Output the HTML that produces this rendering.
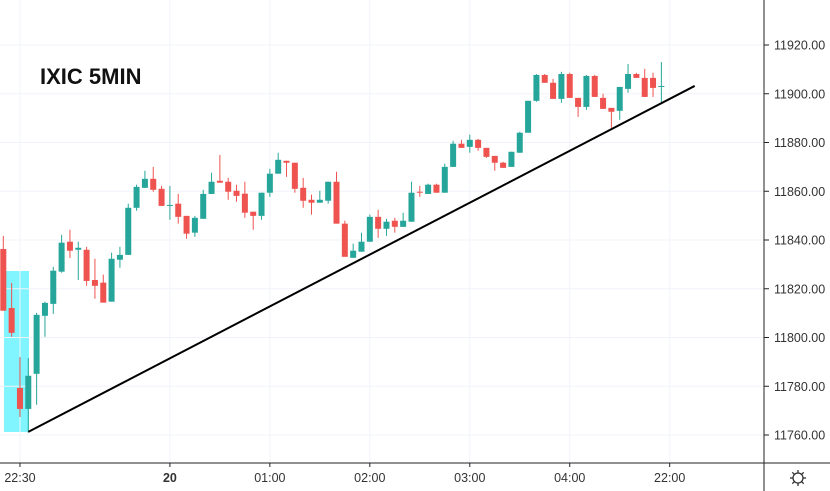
<!DOCTYPE html>
<html><head><meta charset="utf-8"><style>
body{margin:0;background:#fff;}
svg{display:block;font-family:"Liberation Sans",sans-serif;}
</style></head><body>
<svg id="chart" width="830" height="491">
<rect x="4" y="271" width="25" height="161" fill="#80f5ff"/>
<g id="grid"></g><g id="candles"></g><g id="trend"></g><g id="axes"></g>
<text x="40" y="84" font-size="22" font-weight="bold" fill="#111">IXIC 5MIN</text>
<g stroke="#333" stroke-width="1.3" fill="none">
<circle cx="798" cy="478" r="5"/>
<line x1="798" y1="470" x2="798" y2="473"/><line x1="798" y1="483" x2="798" y2="486"/>
<line x1="790" y1="478" x2="793" y2="478"/><line x1="803" y1="478" x2="806" y2="478"/>
<line x1="792.3" y1="472.3" x2="794.5" y2="474.5"/><line x1="801.5" y1="481.5" x2="803.7" y2="483.7"/>
<line x1="803.7" y1="472.3" x2="801.5" y2="474.5"/><line x1="794.5" y1="481.5" x2="792.3" y2="483.7"/>
</g>
</svg>
<script>
const opens=[11836.3,11812.1,11779.3,11770.7,11785.1,11808.9,11813.8,11827.0,11839.3,11836.0,11836.0,11823.6,11822.5,11814.7,11831.9,11833.9,11853.2,11861.4,11865.1,11861.0,11854.0,11854.9,11849.9,11843.0,11848.7,11858.9,11864.3,11863.9,11860.2,11859.0,11851.6,11849.9,11859.4,11867.2,11872.5,11871.7,11861.4,11856.5,11855.3,11856.1,11863.9,11846.7,11832.7,11835.2,11839.3,11849.5,11844.6,11847.9,11845.4,11847.5,11859.8,11858.9,11862.7,11859.4,11870.0,11879.5,11878.2,11881.1,11877.8,11874.5,11871.7,11870.0,11875.8,11884.0,11897.1,11907.7,11904.5,11897.9,11908.1,11898.3,11894.6,11907.3,11898.3,11894.2,11893.0,11902.0,11908.1,11906.5,11906.5,11902.8];
const highs=[11841.7,11822.4,11792.0,11791.6,11810.1,11814.7,11829.0,11842.1,11844.2,11839.3,11837.2,11832.3,11825.8,11834.8,11837.2,11854.9,11862.7,11868.4,11870.0,11862.2,11862.2,11858.9,11849.9,11849.9,11860.6,11867.6,11874.9,11865.5,11862.7,11863.9,11851.6,11859.4,11869.2,11875.8,11872.5,11871.7,11865.5,11858.6,11860.2,11863.9,11868.0,11847.9,11838.5,11843.0,11850.4,11852.4,11848.7,11849.1,11851.2,11863.9,11862.2,11863.1,11863.1,11871.3,11880.7,11881.1,11883.2,11881.5,11877.8,11874.5,11872.1,11876.2,11884.4,11897.1,11908.1,11908.1,11906.1,11909.0,11908.6,11898.3,11907.7,11907.7,11900.0,11894.2,11902.8,11912.2,11908.6,11910.2,11908.6,11913.0];
const lows=[11811.0,11800.3,11767.4,11761.0,11772.4,11800.3,11809.7,11826.6,11832.6,11823.6,11821.2,11815.9,11814.3,11814.7,11828.6,11833.9,11852.0,11861.4,11859.8,11854.0,11848.3,11846.7,11840.5,11841.3,11848.7,11858.9,11863.5,11856.5,11855.7,11849.1,11844.2,11848.3,11857.7,11867.2,11865.9,11859.4,11853.2,11850.4,11855.3,11854.9,11846.7,11833.1,11832.7,11835.2,11839.3,11840.9,11841.7,11843.0,11845.4,11847.5,11857.7,11858.9,11859.4,11859.4,11870.0,11877.8,11875.8,11876.6,11873.7,11868.4,11869.6,11870.0,11875.8,11884.0,11896.7,11904.5,11897.9,11896.3,11898.3,11890.5,11893.4,11898.7,11893.8,11886.0,11889.3,11900.4,11906.5,11898.7,11898.7,11896.3];
const closes=[11811.0,11801.9,11770.7,11784.3,11809.3,11814.2,11827.4,11838.9,11835.6,11836.8,11823.2,11821.2,11814.3,11832.3,11833.9,11853.2,11861.8,11865.1,11860.6,11854.0,11854.4,11849.5,11842.6,11849.1,11858.9,11863.9,11863.5,11859.8,11858.1,11851.2,11849.9,11859.4,11867.2,11872.9,11871.7,11861.0,11856.1,11855.3,11856.5,11863.9,11846.7,11833.1,11835.6,11839.3,11849.5,11844.6,11847.5,11845.4,11847.9,11859.4,11859.4,11862.7,11859.4,11870.0,11879.5,11877.8,11881.1,11877.8,11874.1,11871.7,11869.6,11876.2,11884.0,11897.1,11907.7,11904.5,11897.9,11908.1,11898.3,11894.6,11907.3,11898.7,11893.8,11892.6,11902.8,11908.1,11906.5,11898.7,11902.4,11903.2];
const priceTicks=[11760,11780,11800,11820,11840,11860,11880,11900,11920];
const timeLabels=["22:30","20","01:00","02:00","03:00","04:00","22:00"];
const timeIdx=[2,20,32,44,56,68,80];
const trendIdx=[3,83];
const trendPrice=[11761.3,11903.2];

const NS="http://www.w3.org/2000/svg";
const yS=p=>45+(11920-p)*2.4375;
const xS=i=>3.3+i*8.33;
function mk(tag,attrs,parent){const e=document.createElementNS(NS,tag);for(const k in attrs)e.setAttribute(k,attrs[k]);parent.appendChild(e);return e;}
const grid=document.getElementById('grid'),cg=document.getElementById('candles'),tg=document.getElementById('trend'),ax=document.getElementById('axes');
priceTicks.forEach(p=>{const l=mk('line',{x1:0,x2:764,y1:yS(p),y2:yS(p),stroke:'#f0f3fa','stroke-width':1},grid);


const t=mk('line',{x1:764,x2:769,y1:yS(p),y2:yS(p),stroke:'#222'},ax);


const tx=mk('text',{x:774,y:yS(p)+4.5,'font-size':12.5,fill:'#333'},ax);tx.textContent=p.toFixed(2);

});
timeLabels.forEach((s,k)=>{const x=xS(timeIdx[k]);
const l=mk('line',{x1:x,x2:x,y1:0,y2:463,stroke:'#f0f3fa'},grid);


const tk=mk('line',{x1:x,x2:x,y1:463,y2:467,stroke:'#222'},ax);


const t=mk('text',{x:x,y:482,'font-size':12.5,fill:'#333','text-anchor':'middle','font-weight':s==='20'?'bold':'normal'},ax);t.textContent=s;

});
opens.forEach((o,i)=>{const c=closes[i],up=c>=o,col=up?'#26a69a':'#ef5350',x=xS(i);
const g=mk('g',{},cg);


mk('line',{x1:x,x2:x,y1:yS(highs[i]),y2:yS(lows[i]),stroke:col,'stroke-width':1},g);
const t=yS(Math.max(o,c)),b=yS(Math.min(o,c));
mk('rect',{x:x-3,y:t,width:6,height:Math.max(1,b-t),fill:col},g);});
const tl=mk('line',{x1:xS(trendIdx[0]),y1:yS(trendPrice[0]),x2:xS(trendIdx[1]),y2:yS(trendPrice[1]),stroke:'#000','stroke-width':2},tg);


const a1=mk('line',{x1:764,x2:764,y1:0,y2:491,stroke:'#222'},ax);


const a2=mk('line',{x1:0,x2:830,y1:463,y2:463,stroke:'#222'},ax);


</script>
</body></html>
